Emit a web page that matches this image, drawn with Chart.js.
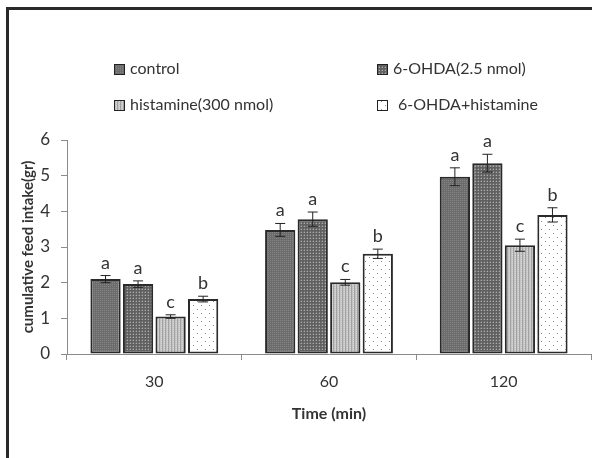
<!doctype html>
<html>

<head>
	<title>Cumulative feed intake</title>
	<script src="https://cdn.jsdelivr.net/npm/chart.js@4/dist/chart.umd.min.js"></script>
	<style>
		body {
			margin: 0;
			background: #fff;
		}
		#wrap {
			position: relative;
			width: 592px;
			height: 458px;
		}
		#frame {
			position: absolute;
			left: 6px;
			top: 7px;
			right: -10px;
			bottom: -10px;
			border-top: 3px solid #2a2a2a;
			border-left: 3px solid #2a2a2a;
			pointer-events: none;
		}
		canvas {
			position: absolute;
			left: 0;
			top: 0;
		}
	</style>
</head>

<body>
	<div id="wrap">
		<canvas id="canvas" width="592" height="458"></canvas>
		<div id="frame"></div>
	</div>
	<script>
		var categories = ['30', '60', '120'];
		var seriesNames = ['control', '6-OHDA(2.5 nmol)', 'histamine(300 nmol)', '6-OHDA+histamine'];

		var control = [2.10, 3.48, 4.97];
		var ohda = [1.96, 3.78, 5.35];
		var histamine = [1.05, 2.01, 3.05];
		var ohdaHistamine = [1.54, 2.81, 3.90];

		var controlErr = [0.10, 0.18, 0.25];
		var ohdaErr = [0.09, 0.20, 0.25];
		var histamineErr = [0.05, 0.08, 0.17];
		var ohdaHistamineErr = [0.08, 0.13, 0.20];

		var controlLetters = ['a', 'a', 'a'];
		var ohdaLetters = ['a', 'a', 'a'];
		var histamineLetters = ['c', 'c', 'c'];
		var ohdaHistamineLetters = ['b', 'b', 'b'];

		var yTicks = [0, 1, 2, 3, 4, 5, 6];

		// small fill patterns like the original print
		function makePattern(kind) {
			var c = document.createElement('canvas');
			var ctx = c.getContext('2d');
			if (kind === 'dark') {
				c.width = 2; c.height = 2;
				ctx.fillStyle = '#6c6c6c';
				ctx.fillRect(0, 0, 2, 2);
				ctx.fillStyle = '#858585';
				ctx.fillRect(0, 0, 1, 1);
			} else if (kind === 'check') {
				c.width = 3; c.height = 3;
				ctx.fillStyle = '#606060';
				ctx.fillRect(0, 0, 3, 3);
				ctx.fillStyle = '#ababab';
				ctx.fillRect(1, 1, 1, 1);
				ctx.fillStyle = '#7a7a7a';
				ctx.fillRect(0, 1, 1, 1);
				ctx.fillRect(1, 0, 1, 1);
			} else if (kind === 'lines') {
				c.width = 3; c.height = 2;
				ctx.fillStyle = '#c4c4c4';
				ctx.fillRect(0, 0, 3, 2);
				ctx.fillStyle = '#a2a2a2';
				ctx.fillRect(0, 0, 1, 2);
				ctx.fillStyle = '#dadada';
				ctx.fillRect(2, 1, 1, 1);
			} else {
				c.width = 8; c.height = 8;
				ctx.fillStyle = '#ffffff';
				ctx.fillRect(0, 0, 8, 8);
				ctx.fillStyle = '#8a8a8a';
				ctx.fillRect(1, 1, 1, 1);
				ctx.fillRect(5, 5, 1, 1);
			}
			return document.createElement('canvas').getContext('2d').createPattern(c, 'repeat');
		}

		var fills = [makePattern('dark'), makePattern('check'), makePattern('lines'), makePattern('dots')];
		var values = [control, ohda, histamine, ohdaHistamine];
		var errors = [controlErr, ohdaErr, histamineErr, ohdaHistamineErr];
		var letters = [controlLetters, ohdaLetters, histamineLetters, ohdaHistamineLetters];

		var errorBarPlugin = {
			id: 'errorBars',
			afterDatasetsDraw: function(chart) {
				var ctx = chart.ctx;
				var yScale = chart.scales.y;
				ctx.save();
				chart.data.datasets.forEach(function(ds, i) {
					var meta = chart.getDatasetMeta(i);
					meta.data.forEach(function(bar, j) {
						var v = ds.data[j];
						var e = errors[i][j];
						var yTop = yScale.getPixelForValue(v + e);
						var yBot = yScale.getPixelForValue(v - e);
						ctx.strokeStyle = '#222';
						ctx.lineWidth = 1;
						ctx.beginPath();
						ctx.moveTo(bar.x, yTop);
						ctx.lineTo(bar.x, yBot);
						ctx.moveTo(bar.x - 5, yTop);
						ctx.lineTo(bar.x + 5, yTop);
						ctx.moveTo(bar.x - 5, yBot);
						ctx.lineTo(bar.x + 5, yBot);
						ctx.stroke();
						ctx.fillStyle = '#333';
						ctx.font = '18px Lato';
						ctx.textAlign = 'center';
						ctx.textBaseline = 'alphabetic';
						ctx.fillText(letters[i][j], bar.x, yTop - 7);
					});
				});
				ctx.restore();
			}
		};

		var legendPlugin = {
			id: 'gridLegend',
			afterDraw: function(chart) {
				var ctx = chart.ctx;
				var spots = [[114, 69], [377, 69], [114, 105], [377, 105]];
				ctx.save();
				ctx.font = '16px Lato';
				ctx.textBaseline = 'middle';
				ctx.textAlign = 'left';
				seriesNames.forEach(function(name, i) {
					var x = spots[i][0], y = spots[i][1];
					ctx.fillStyle = fills[i];
					ctx.fillRect(x, y - 5, 10, 10);
					ctx.strokeStyle = '#222';
					ctx.lineWidth = 1;
					ctx.strokeRect(x + 0.5, y - 4.5, 10, 10);
					ctx.fillStyle = '#333';
					ctx.fillText(name, x + (i === 3 ? 21 : 16), y);
				});
				ctx.restore();
			}
		};

		var config = {
			type: 'bar',
			data: {
				labels: categories,
				datasets: seriesNames.map(function(name, i) {
					return {
						label: name,
						data: values[i],
						backgroundColor: fills[i],
						borderColor: '#2a2a2a',
						borderWidth: 2,
						borderSkipped: false,
						barPercentage: 0.93,
						categoryPercentage: 0.745
					};
				})
			},
			options: {
				responsive: false,
				animation: false,
				layout: {
					padding: { top: 140, right: 1, left: 0, bottom: 0 }
				},
				plugins: {
					legend: { display: false },
					tooltip: { enabled: false }
				},
				scales: {
					x: {
						grid: {
							offset: true,
							drawOnChartArea: false,
							color: '#8a8a8a',
							tickLength: 6
						},
						border: { color: '#8a8a8a' },
						ticks: {
							color: '#333',
							font: { family: 'Lato', size: 16 },
							padding: 12
						},
						title: {
							display: true,
							text: 'Time (min)',
							color: '#333',
							font: { family: 'Lato', size: 16, weight: 'bold' },
							padding: { top: 0, bottom: 35 }
						},
						afterFit: function(scale) {
							scale.height = 104;
						}
					},
					y: {
						min: 0,
						max: 6,
						afterBuildTicks: function(scale) {
							scale.ticks = yTicks.map(function(v) { return { value: v }; });
						},
						grid: {
							drawOnChartArea: false,
							color: '#8a8a8a',
							tickLength: 6
						},
						border: { color: '#8a8a8a' },
						ticks: {
							color: '#333',
							font: { family: 'Lato', size: 17 },
							padding: 11
						},
						title: {
							display: true,
							text: 'cumulative feed intake(gr)',
							color: '#333',
							font: { family: 'Lato', size: 15, weight: 'bold' },
							padding: { top: 19, bottom: 0 }
						},
						afterFit: function(scale) {
							scale.width = 67;
						}
					}
				}
			},
			plugins: [errorBarPlugin, legendPlugin]
		};

		window.onload = function() {
			window.myBar = new Chart(document.getElementById('canvas'), config);
		};
	</script>
</body>

</html>
